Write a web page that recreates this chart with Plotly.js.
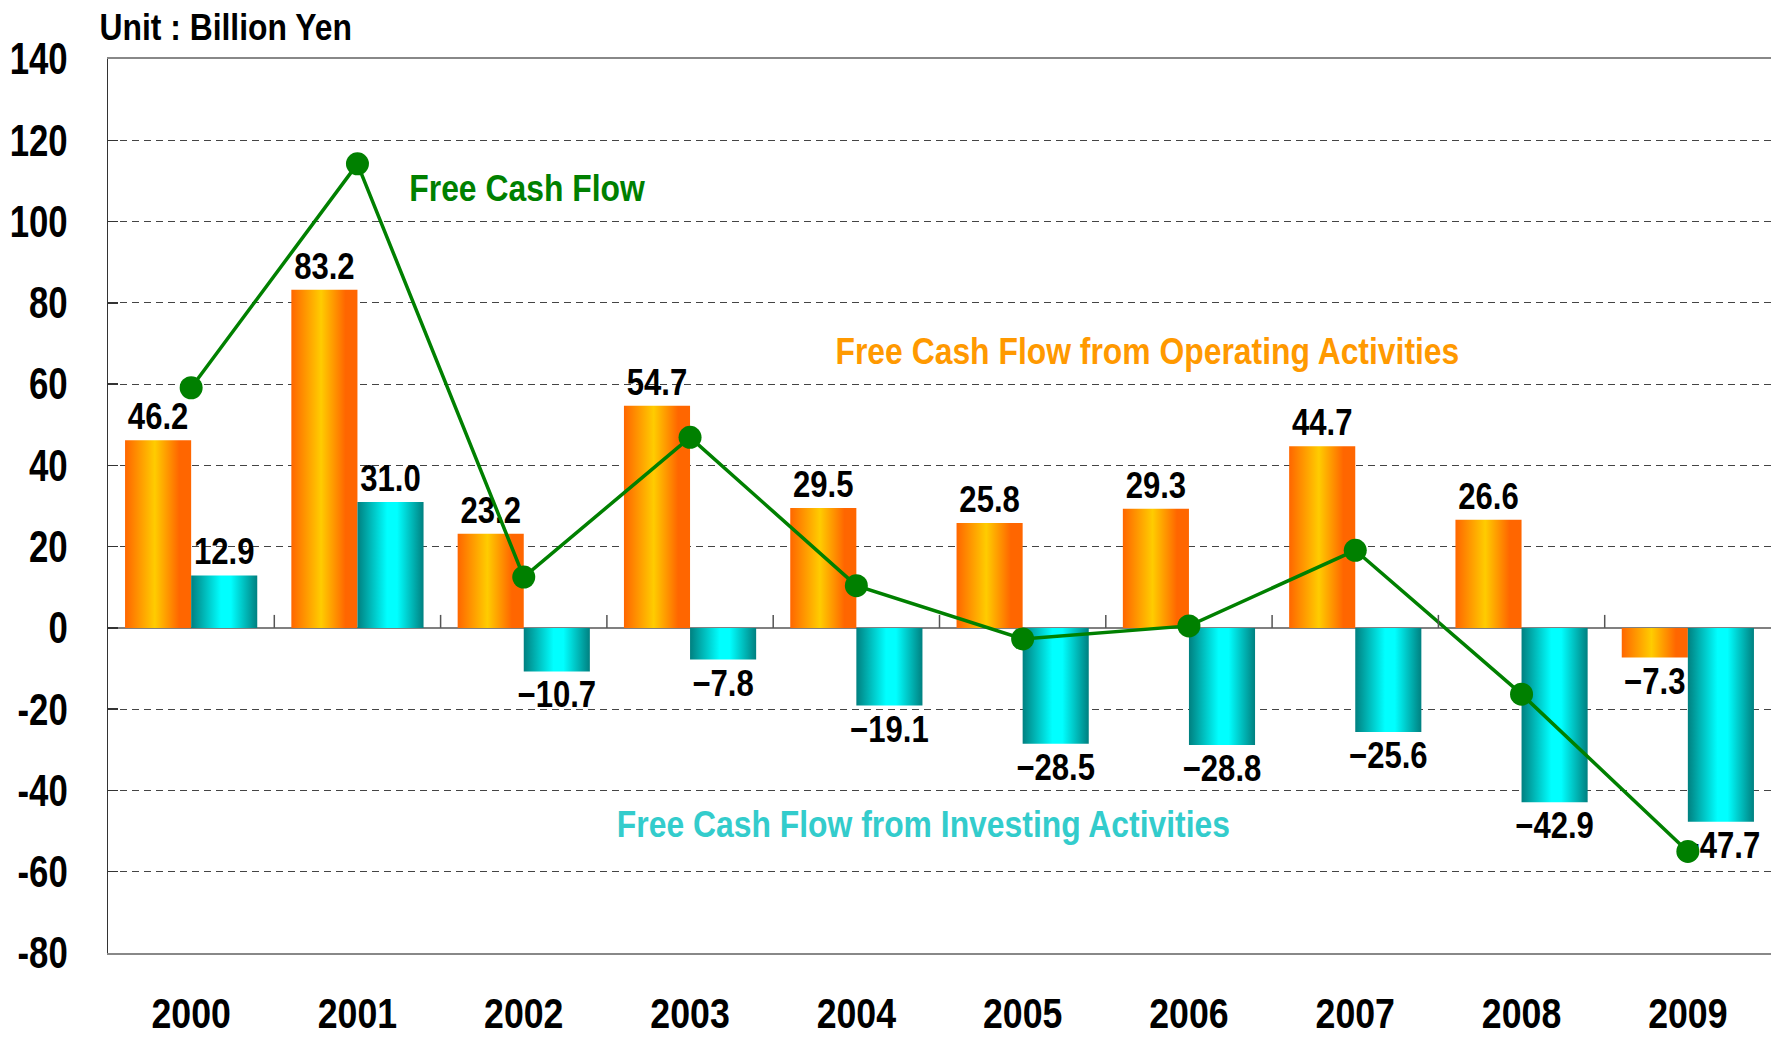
<!DOCTYPE html>
<html>
<head>
<meta charset="utf-8">
<script src="https://cdn.plot.ly/plotly-3.0.1.min.js"></script>
<style>
  html, body { margin: 0; padding: 0; background: #ffffff; overflow: hidden; }
  #chart { width: 1773px; height: 1037px; }
</style>
</head>
<body>
<div id="chart"></div>
<script>
// ---- data ----
const years = ['2000', '2001', '2002', '2003', '2004', '2005', '2006', '2007', '2008', '2009'];
const operatingCF = [46.2, 83.2, 23.2, 54.7, 29.5, 25.8, 29.3, 44.7, 26.6, -7.3];
const investingCF = [12.9, 31.0, -10.7, -7.8, -19.1, -28.5, -28.8, -25.6, -42.9, -47.7];
const freeCF = [59.1, 114.2, 12.5, 46.9, 10.4, -2.7, 0.5, 19.1, -16.3, -55.0];
const yTickVals = [-80, -60, -40, -20, 0, 20, 40, 60, 80, 100, 120, 140];
const yTickText = ['-80', '-60', '-40', '-20', '0', '20', '40', '60', '80', '100', '120', '140'];
const unitLabel = 'Unit : Billion Yen';
const seriesNames = ['Free Cash Flow from Operating Activities', 'Free Cash Flow from Investing Activities', 'Free Cash Flow'];

const FONT = '"Liberation Sans", Arial, sans-serif';
const fmt = v => (v < 0 ? '\u2212' : '') + Math.abs(v).toFixed(1);

const traces = [
  {
    type: 'bar', name: seriesNames[0], x: years, y: operatingCF,
    marker: { color: '#FFB000', line: { width: 0 } },
    text: operatingCF.map(fmt), textposition: 'outside', cliponaxis: false,
    constraintext: 'none',
    textfont: { family: FONT, size: 37, color: '#000000', weight: 'bold' },
    hoverinfo: 'skip'
  },
  {
    type: 'bar', name: seriesNames[1], x: years, y: investingCF,
    marker: { color: '#00C0C0', line: { width: 0 } },
    text: investingCF.map(fmt), textposition: 'outside', cliponaxis: false,
    constraintext: 'none',
    textfont: { family: FONT, size: 37, color: '#000000', weight: 'bold' },
    hoverinfo: 'skip'
  },
  {
    type: 'scatter', mode: 'lines+markers', name: seriesNames[2], x: years, y: freeCF,
    line: { color: '#008000', width: 3.5 },
    marker: { color: '#008000', size: 23 },
    cliponaxis: false, hoverinfo: 'skip'
  }
];

// small category boundary ticks rising from the zero line
const boundaryTicks = years.slice(1).map((_, i) => ({
  type: 'line', xref: 'x', yref: 'y', x0: i + 0.5, x1: i + 0.5, y0: 0, y1: 3.2,
  line: { color: '#555555', width: 1.5 }, layer: 'above'
}));

const layout = {
  width: 1773, height: 1037,
  margin: { l: 108, r: 2, t: 59, b: 84 },
  paper_bgcolor: '#ffffff', plot_bgcolor: '#ffffff',
  showlegend: false,
  barmode: 'group', bargap: 0.205, bargroupgap: 0,
  font: { family: FONT, color: '#000000' },
  xaxis: {
    type: 'category', range: [-0.5, 9.5],
    showgrid: false, zeroline: false,
    showline: true, mirror: true, linecolor: '#888888', linewidth: 2,
    ticks: '', ticklabelstandoff: 23,
    tickfont: { family: FONT, size: 42, color: '#000000', weight: 'bold' }
  },
  yaxis: {
    range: [-80, 140], tickvals: yTickVals, ticktext: yTickText,
    showgrid: true, gridcolor: '#444444', gridwidth: 1, griddash: '7px,5px',
    zeroline: true, zerolinecolor: '#808080', zerolinewidth: 2,
    showline: true, linecolor: '#333333', linewidth: 1.5,
    ticks: 'inside', ticklen: 10, tickcolor: '#333333', tickwidth: 1.5,
    ticklabelstandoff: 30,
    tickfont: { family: FONT, size: 44, color: '#000000', weight: 'bold' }
  },
  shapes: boundaryTicks,
  annotations: [
    { text: unitLabel, xref: 'paper', yref: 'paper', x: (225 - 108) / 1663, y: 1.035,
      xanchor: 'center', yanchor: 'middle', showarrow: false,
      font: { family: FONT, size: 36, color: '#000000', weight: 'bold' } },
    { text: seriesNames[2], xref: 'paper', yref: 'paper', x: (527 - 108) / 1663, y: 0.8546,
      xanchor: 'center', yanchor: 'middle', showarrow: false,
      font: { family: FONT, size: 36, color: '#008000', weight: 'bold' } },
    { text: seriesNames[0], xref: 'paper', yref: 'paper', x: (1147 - 108) / 1663, y: 0.6723,
      xanchor: 'center', yanchor: 'middle', showarrow: false,
      font: { family: FONT, size: 36, color: '#FF9900', weight: 'bold' } },
    { text: seriesNames[1], xref: 'paper', yref: 'paper', x: (923 - 108) / 1663, y: 0.1432,
      xanchor: 'center', yanchor: 'middle', showarrow: false,
      font: { family: FONT, size: 36, color: '#33CCCC', weight: 'bold' } }
  ]
};

function applyGradients(gd) {
  const svg = gd.querySelector('svg.main-svg');
  if (!svg) return;
  let defs = svg.querySelector('defs');
  if (!defs) { defs = document.createElementNS('http://www.w3.org/2000/svg', 'defs'); svg.insertBefore(defs, svg.firstChild); }
  const mk = (id, stops) => {
    if (defs.querySelector('#' + id)) return;
    const g = document.createElementNS('http://www.w3.org/2000/svg', 'linearGradient');
    g.setAttribute('id', id);
    g.setAttribute('x1', '0'); g.setAttribute('y1', '0'); g.setAttribute('x2', '1'); g.setAttribute('y2', '0');
    stops.forEach(([o, c]) => {
      const s = document.createElementNS('http://www.w3.org/2000/svg', 'stop');
      s.setAttribute('offset', o); s.setAttribute('stop-color', c);
      g.appendChild(s);
    });
    defs.appendChild(g);
  };
  mk('gradOrange', [['0', '#FF6600'], ['0.45', '#FFCC00'], ['0.82', '#FF6600'], ['1', '#FF6600']]);
  mk('gradCyan', [['0', '#008080'], ['0.45', '#00FFFF'], ['0.6', '#00FFFF'], ['1', '#008080']]);
  const barTraces = gd.querySelectorAll('.barlayer .trace.bars');
  const ids = ['gradOrange', 'gradCyan'];
  barTraces.forEach((t, i) => {
    t.querySelectorAll('.point path').forEach(p => { p.style.fill = 'url(#' + ids[i] + ')'; });
  });
}

// narrow the glyphs to imitate the condensed gothic face of the reference
function squeeze(gd, selector, factor) {
  gd.querySelectorAll(selector).forEach(t => {
    t.removeAttribute('textLength');
    const L = t.getComputedTextLength();
    if (L > 0) {
      t.setAttribute('textLength', (L * factor).toFixed(1));
      t.setAttribute('lengthAdjust', 'spacingAndGlyphs');
    }
  });
}

function restyleTexts(gd) {
  squeeze(gd, '.yaxislayer-above .ytick text', 0.79);
  squeeze(gd, '.xaxislayer-above .xtick text', 0.85);
  squeeze(gd, '.barlayer text.bartext', 0.84);
  squeeze(gd, '.annotation-text', 0.885);
}

const gd = document.getElementById('chart');
Plotly.newPlot(gd, traces, layout, { displayModeBar: false, staticPlot: true }).then(() => {
  applyGradients(gd);
  restyleTexts(gd);
});
</script>
</body>
</html>
